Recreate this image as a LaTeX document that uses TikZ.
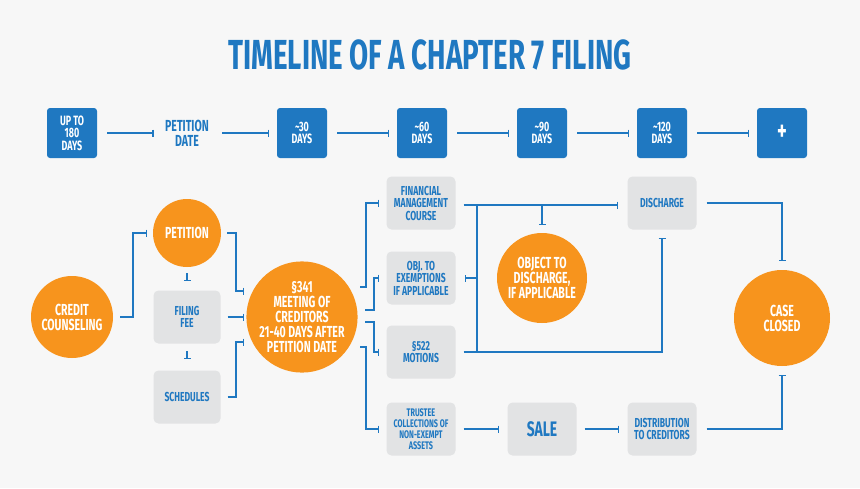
\documentclass[tikz,border=0pt]{standalone}
\usepackage{fontspec}
\setmainfont{Fira Sans}[FakeStretch=0.66]
\usetikzlibrary{arrows.meta}
\definecolor{tblue}{HTML}{1F78C1}
\definecolor{torange}{HTML}{F7941D}
\definecolor{tgray}{HTML}{E2E3E4}
\definecolor{tbg}{HTML}{F7F7F7}
\tikzset{
  days/.style = {fill=tblue, rounded corners=3pt, minimum width=50pt, minimum height=50pt,
                 text=white, font=\bfseries\fontsize{13.5}{12.5}\selectfont, align=center},
  task/.style = {fill=tgray, rounded corners=5pt, minimum width=69pt, minimum height=53pt,
                 text=tblue, font=\bfseries\fontsize{13}{12.5}\selectfont, align=center},
  event/.style = {circle, fill=torange, text=white, align=center,
                  font=\bfseries\fontsize{16}{15}\selectfont},
  link/.style = {tblue, line width=1.2pt, -{Bar[width=7pt]}},
}
\begin{document}
\begin{tikzpicture}[x=1pt, y=-1pt]
  \useasboundingbox[fill=tbg] (0,0) rectangle (860,488);
  \node (title) [text=tblue, font=\bfseries\fontsize{42}{42}\selectfont] at (430,55) {TIMELINE OF A CHAPTER 7 FILING};

  % timeline
  \node (t0) [days] at (72,133) {UP TO\\180\\DAYS};
  \node (t1) [text=tblue, font=\bfseries\fontsize{16}{15}\selectfont, align=center] at (187,133) {PETITION\\DATE};
  \node (t2) [days] at (302,133) {\textasciitilde30\\DAYS};
  \node (t3) [days] at (422,133) {\textasciitilde60\\DAYS};
  \node (t4) [days] at (542,133) {\textasciitilde90\\DAYS};
  \node (t5) [days] at (662,133) {\textasciitilde120\\DAYS};
  \node (t6) [days, font=\bfseries\fontsize{28}{28}\selectfont] at (782,133) {+};
  \foreach \a/\b in {t0/t1,t1/t2,t2/t3,t3/t4,t4/t5,t5/t6}
    \draw [link, shorten <=10pt, shorten >=8pt] (\a) -- (\b);

  % flow
  \node (credit) [event, minimum size=82pt] at (72,317) {CREDIT\\COUNSELING};
  \node (petition) [event, minimum size=68pt] at (187,233) {PETITION};
  \node (fee) [task, minimum width=67pt] at (187,317) {FILING\\FEE};
  \node (sched) [task, minimum width=67pt] at (187,397) {SCHEDULES};
  \node (meeting) [event, minimum size=110pt, inner sep=0pt] at (302,317)
    {§341\\MEETING OF\\CREDITORS\\21-40 DAYS AFTER\\PETITION DATE};
  \node (course) [task] at (421,203) {FINANCIAL\\MANAGEMENT\\COURSE};
  \node (exempt) [task] at (421,278) {OBJ. TO\\EXEMPTIONS\\IF APPLICABLE};
  \node (motions) [task] at (421,352) {§522\\MOTIONS};
  \node (trustee) [task, font=\bfseries\fontsize{11}{11}\selectfont] at (421,429) {TRUSTEE\\COLLECTIONS OF\\NON-EXEMPT\\ASSETS};
  \node (object) [event, minimum size=90pt, inner sep=0pt] at (542,278) {OBJECT TO\\DISCHARGE,\\IF APPLICABLE};
  \node (sale) [task, font=\bfseries\fontsize{21}{21}\selectfont] at (542,429) {SALE};
  \node (discharge) [task] at (662,203) {DISCHARGE};
  \node (distrib) [task] at (662,429) {DISTRIBUTION\\TO CREDITORS};
  \node (closed) [event, minimum size=96pt] at (782,318) {CASE\\CLOSED};

  \coordinate (fork) at (477,205);
  \draw [link] (120,317) -- (133,317) |- ([xshift=-6pt]petition.west);
  \draw [link] ([xshift=6pt]petition.east) -- (236,233) |- (244,291);
  \draw [link] ([xshift=7pt]fee.east) -- (244,317);
  \draw [link] ([xshift=7pt]sched.east) -- (236,397) |- (244,342);
  \draw [link] (187,273) -- (187,281);
  \draw [link] (187,351) -- (187,359);
  \draw [link] (360,287) -- (366,287) |- ([xshift=-7pt]course.west);
  \draw [link] (365,310) -- (374,310) |- ([xshift=-7pt]exempt.west);
  \draw [link] (365,322) -- (374,322) |- ([xshift=-7pt]motions.west);
  \draw [link] (360,347) -- (366,347) |- ([xshift=-7pt]trustee.west);
  \draw [link] ([xshift=8pt]course.east |- fork) -- ([xshift=-9pt]discharge.west |- fork);
  \draw [tblue, line width=1.2pt] (fork) -- (477,352);
  \draw [link] (477,278) -- ([xshift=9pt]exempt.east);
  \draw [link] (542,205) -- (542,225);
  \draw [link] ([xshift=8pt]motions.east) -- (662,352) -- ([yshift=-8pt]discharge.south);
  \draw [link] ([xshift=8pt]trustee.east) -- ([xshift=-8pt]sale.west);
  \draw [link] ([xshift=8pt]sale.east) -- ([xshift=-8pt]distrib.west);
  \draw [link] ([xshift=10pt]discharge.east) -| ([yshift=9pt]closed.north);
  \draw [link] ([xshift=10pt]distrib.east) -| ([yshift=-9pt]closed.south);
\end{tikzpicture}
\end{document}
